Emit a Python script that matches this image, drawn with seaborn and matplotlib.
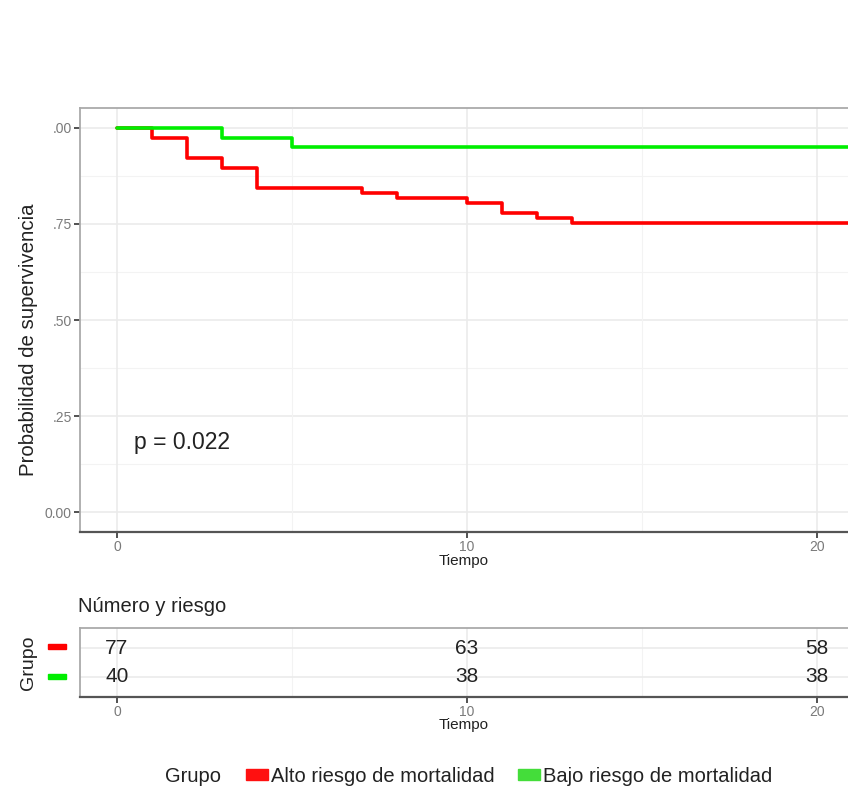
import matplotlib
matplotlib.use("Agg")
import matplotlib.pyplot as plt
import seaborn as sns
import pandas as pd
from matplotlib.patches import Patch, Rectangle

# ---- data ----
groups = ["Alto riesgo de mortalidad", "Bajo riesgo de mortalidad"]
colors = ["#ff0000", "#00ee00"]
legend_colors = ["#ff1010", "#44dd3a"]
time_alto = [0, 1, 2, 3, 4, 7, 8, 10, 11, 12, 13, 22]
surv_alto = [1.0, 0.974, 0.922, 0.896, 0.844, 0.831, 0.818, 0.805, 0.779, 0.766, 0.753, 0.753]
time_bajo = [0, 3, 5, 22]
surv_bajo = [1.0, 0.975, 0.95, 0.95]
risk_times = [0, 10, 20]
risk_alto = [77, 63, 58]
risk_bajo = [40, 38, 38]
ytick_vals = [0.0, 0.25, 0.5, 0.75, 1.0]
ytick_labels = ["0.00", ".25", ".50", ".75", ".00"]
xtick_vals = [0, 10, 20]
p_text = "p = 0.022"

df = pd.concat([
    pd.DataFrame({"Tiempo": time_alto, "S": surv_alto, "Grupo": groups[0]}),
    pd.DataFrame({"Tiempo": time_bajo, "S": surv_bajo, "Grupo": groups[1]}),
])

sns.set_theme(style="white")
plt.rcParams['font.family'] = ['Liberation Sans', 'DejaVu Sans']

W, H = 848, 794
fig = plt.figure(figsize=(W / 100, H / 100), dpi=100)

def fx(px):
    return px / W

def fy(py):
    return 1 - py / H

xlim = (-1.057, 20.886)
grid_c = "#ebebeb"
txt_c = "#222222"
tick_c = "#7a7a7a"

# ---- main survival panel ----
ax = fig.add_axes([fx(80), fy(532), fx(848 - 80), (532 - 108) / H])
for v in [0.125, 0.375, 0.625, 0.875]:
    ax.axhline(v, color="#f3f3f3", lw=0.8, zorder=0)
for v in ytick_vals:
    ax.axhline(v, color=grid_c, lw=1.2, zorder=0)
for v in [5, 15]:
    ax.axvline(v, color="#f3f3f3", lw=0.8, zorder=0)
for v in xtick_vals:
    ax.axvline(v, color=grid_c, lw=1.2, zorder=0)

sns.lineplot(data=df, x="Tiempo", y="S", hue="Grupo", palette=dict(zip(groups, colors)),
             drawstyle="steps-post", estimator=None, legend=False, lw=2.6, ax=ax, zorder=3)
ax.set_xlim(*xlim)
ax.set_ylim(-0.052, 1.052)
ax.set_yticks(ytick_vals)
ax.set_yticklabels(ytick_labels)
ax.set_xticks(xtick_vals)
ax.set_xticklabels([str(v) for v in xtick_vals])
ax.tick_params(axis="both", which="major", direction="out", length=4, width=1.2,
               color="#333333", labelcolor=tick_c, labelsize=10, bottom=True, left=True, pad=2)
ax.set_xlabel("Tiempo", fontsize=11, color=txt_c, labelpad=0)
ax.set_ylabel("Probabilidad de supervivencia", fontsize=14.7, color=txt_c)
ax.yaxis.set_label_coords(-0.0547, (532 - 340) / 424)
for s in ["top", "left"]:
    ax.spines[s].set_color("#aaaaaa")
    ax.spines[s].set_linewidth(1.3)
ax.spines["right"].set_visible(False)
ax.spines["bottom"].set_color("#555555")
ax.spines["bottom"].set_linewidth(1.6)
ax.text(0.5, 0.18, p_text, fontsize=16.5, color=txt_c, va="center", ha="left")

# ---- risk table ----
ax2 = fig.add_axes([fx(80), fy(697), fx(848 - 80), (697 - 628) / H])
for v in [5, 15]:
    ax2.axvline(v, color="#f3f3f3", lw=0.8, zorder=0)
for v in xtick_vals:
    ax2.axvline(v, color=grid_c, lw=1.2, zorder=0)
for v in [0, 1]:
    ax2.axhline(v, color=grid_c, lw=1.2, zorder=0)
rt = pd.concat([
    pd.DataFrame({"Tiempo": risk_times, "n": risk_alto, "row": 1}),
    pd.DataFrame({"Tiempo": risk_times, "n": risk_bajo, "row": 0}),
])
for _, r in rt.iterrows():
    ax2.text(r["Tiempo"], r["row"], str(int(r["n"])), ha="center", va="center",
             fontsize=15, color=txt_c)
ax2.set_xlim(*xlim)
ax2.set_ylim(-0.69, 1.69)
ax2.set_yticks([])
ax2.set_xticks(xtick_vals)
ax2.set_xticklabels([str(v) for v in xtick_vals])
ax2.tick_params(axis="x", direction="out", length=4, width=1.2, color="#333333",
                labelcolor=tick_c, labelsize=10, bottom=True, pad=2)
ax2.set_xlabel("Tiempo", fontsize=11, color=txt_c, labelpad=-1)
for s in ["top", "left"]:
    ax2.spines[s].set_color("#aaaaaa")
    ax2.spines[s].set_linewidth(1.3)
ax2.spines["right"].set_visible(False)
ax2.spines["bottom"].set_color("#555555")
ax2.spines["bottom"].set_linewidth(1.6)
# colored group keys
for yy, c in zip([646, 676], colors):
    fig.patches.append(Rectangle((fx(48), fy(yy + 2.5)), fx(18), 5 / H, color=c,
                                 transform=fig.transFigure, figure=fig))
fig.text(fx(28), fy(663), "Grupo", rotation=90, ha="center", va="center",
         fontsize=14, color=txt_c)
fig.text(fx(78), fy(607), "Número y riesgo", ha="left", va="center",
         fontsize=14.5, color=txt_c)

# ---- legend ----
fig.text(fx(165), fy(776), "Grupo", ha="left", va="center", fontsize=14.5, color=txt_c)
handles = [Patch(color=c, label=g) for g, c in zip(groups, legend_colors)]
fig.legend(handles=handles, loc="center", bbox_to_anchor=(fx(509), fy(776)), ncol=2,
           frameon=False, fontsize=14.5, handlelength=1.1, handleheight=0.45,
           handletextpad=0.15, columnspacing=1.15, labelcolor=txt_c)

fig.savefig("out.png", dpi=100)
